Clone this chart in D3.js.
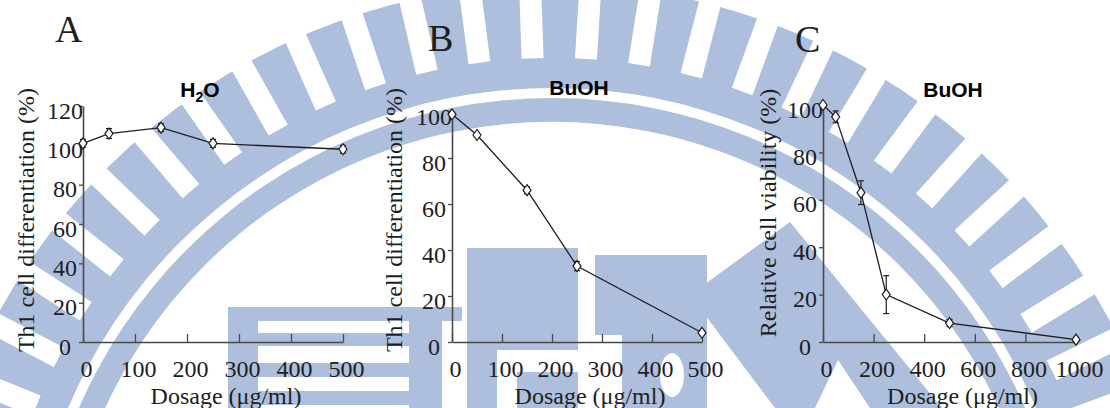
<!DOCTYPE html>
<html>
<head>
<meta charset="utf-8">
<script src="https://cdn.jsdelivr.net/npm/d3@7"></script>
<style>
  body { margin: 0; background: #fff; }
  svg { display: block; }
</style>
</head>
<body>
<div id="chart"></div>
<script>
// ---- data ----
// A: Th1 differentiation, H2O fraction
let doseA = [0, 50, 150, 250, 500];
let th1H2O = [101, 106, 109, 101, 98];
let errH2O = [2, 2.5, 2, 2, 2];
// B: Th1 differentiation, BuOH fraction
let doseB = [0, 50, 150, 250, 500];
let th1BuOH = [99, 90, 66, 33, 4];
let errBuOH = [1, 1, 1.5, 2, 1];
// C: relative cell viability, BuOH fraction
let doseC = [0, 50, 150, 250, 500, 1000];
let viabBuOH = [100, 95, 63, 20, 8, 1];
let errViab = [0.5, 2.5, 5, 8, 1.5, 1];

// tick labels
let xTicksA = [0, 100, 200, 300, 400, 500];
let xTicksC = [0, 200, 400, 600, 800, 1000];
let yTicksA = [0, 20, 40, 60, 80, 100, 120];
let yTicksB = [0, 20, 40, 60, 80, 100];

let serif = '"Liberation Serif", "Times New Roman", serif';
let sans = '"Liberation Sans", Arial, sans-serif';
let ink = '#1e1e1e';
let wmBlue = '#aebedd';

let svg = d3.select('#chart')
    .append('svg')
    .attr('width', 1110)
    .attr('height', 408);

// ---- background watermark (decoration, drawn under the charts) ----
function drawWatermark() {
    let wm = svg.append('g').attr('fill', wmBlue);
    let cx = 552, cy = 614;

    // outer ring that carries the radial bars
    let ring = wm.append('g').attr('transform', `translate(${cx},${cy})`);
    ring.append('path')
        .attr('d', d3.arc()({ innerRadius: 526, outerRadius: 630, startAngle: -Math.PI / 2, endAngle: Math.PI / 2 }));
    // white gaps between the bars
    for (let k = -17; k <= 16; k++) {
        let a = 3.5 + 5.5 * k;
        ring.append('rect')
            .attr('x', -11).attr('y', -720)
            .attr('width', 22).attr('height', 720 - 556)
            .attr('fill', '#fff')
            .attr('transform', `rotate(${a})`);
    }
    // inner band
    ring.append('path')
        .attr('d', d3.arc()({ innerRadius: 492, outerRadius: 516, startAngle: -Math.PI / 2, endAngle: Math.PI / 2 }));

    // block letters at the bottom
    let blocks = [
        [228, 307, 234, 14], [228, 321, 30, 87], [258, 333, 151, 13],
        [258, 363, 151, 14], [258, 391, 151, 14], [409, 321, 33, 87],
        [467, 248, 111, 102], [467, 350, 30, 58], [517, 372, 61, 36],
        [595, 255, 112, 153]
    ];
    wm.selectAll('rect.blk')
        .data(blocks)
        .enter()
        .append('rect')
        .classed('blk', true)
        .attr('x', d => d[0]).attr('y', d => d[1])
        .attr('width', d => d[2]).attr('height', d => d[3]);
    wm.append('rect').attr('x', 595).attr('y', 335).attr('width', 27).attr('height', 73).attr('fill', '#fff');
    wm.append('ellipse').attr('cx', 672).attr('cy', 375).attr('rx', 12).attr('ry', 22).attr('fill', '#fff');

    wm.append('polygon')
        .attr('points', '690,295 790,222 942,408 870,408 838,360 815,408 775,408');
}
drawWatermark();

// ---- one panel ----
function drawPanel(cfg, doses, values, errs) {
    let x = d3.scaleLinear().domain([0, cfg.xMax]).range([cfg.x0, cfg.x1]);
    let y = d3.scaleLinear().domain([0, cfg.yMax]).range([cfg.y0, cfg.yTop]);
    let fmt = d3.format('d');

    let g = svg.append('g');

    // x axis, ticks point into the plot
    let xAxis = g.append('g')
        .attr('transform', `translate(0, ${cfg.y0})`)
        .call(d3.axisBottom(x).tickValues(cfg.xTicks).tickFormat(fmt)
            .tickSizeInner(-8).tickSizeOuter(0).tickPadding(18));

    // y axis, ticks point outwards, labels centred under the ticks
    let yAxis = g.append('g')
        .attr('transform', `translate(${cfg.x0}, 0)`)
        .call(d3.axisLeft(y).tickValues(cfg.yTicks).tickFormat(fmt)
            .tickSizeInner(4).tickSizeOuter(0).tickPadding(0));

    [xAxis, yAxis].forEach(ax => {
        ax.attr('font-family', serif).attr('font-size', 24);
        ax.select('.domain').attr('stroke', '#4a4a4a').attr('stroke-width', 1.6);
        ax.selectAll('.tick line').attr('stroke', '#4a4a4a').attr('stroke-width', 1.3);
        ax.selectAll('.tick text').attr('fill', ink);
    });
    xAxis.selectAll('.tick text').attr('dx', 3);
    yAxis.selectAll('.tick text')
        .attr('x', -18)
        .attr('text-anchor', 'middle')
        .attr('dy', '0.5em');

    let pts = doses.map((d, i) => ({ dose: d, val: values[i], err: errs[i] }));

    // connecting line
    g.append('path')
        .datum(pts)
        .attr('fill', 'none')
        .attr('stroke', ink)
        .attr('stroke-width', 1.3)
        .attr('d', d3.line().x(d => x(d.dose)).y(d => y(d.val)));

    // error bars
    let eb = g.selectAll('.err')
        .data(pts)
        .enter()
        .append('g')
        .attr('stroke', ink)
        .attr('stroke-width', 1.2);
    eb.append('line')
        .attr('x1', d => x(d.dose)).attr('x2', d => x(d.dose))
        .attr('y1', d => y(d.val - d.err)).attr('y2', d => y(d.val + d.err));
    eb.append('line')
        .attr('x1', d => x(d.dose) - 3).attr('x2', d => x(d.dose) + 3)
        .attr('y1', d => y(d.val + d.err)).attr('y2', d => y(d.val + d.err));
    eb.append('line')
        .attr('x1', d => x(d.dose) - 3).attr('x2', d => x(d.dose) + 3)
        .attr('y1', d => y(d.val - d.err)).attr('y2', d => y(d.val - d.err));

    // open diamond markers
    g.selectAll('.mark')
        .data(pts)
        .enter()
        .append('path')
        .attr('d', 'M0,-5.5L4,0L0,5.5L-4,0Z')
        .attr('transform', d => `translate(${x(d.dose)}, ${y(d.val)})`)
        .attr('fill', '#fff')
        .attr('stroke', ink)
        .attr('stroke-width', 1.2);

    // panel letter
    g.append('text')
        .attr('x', cfg.letterX)
        .attr('y', cfg.letterY)
        .attr('font-family', serif)
        .attr('font-size', 38)
        .attr('fill', ink)
        .text(cfg.letter);

    // panel title (bold sans)
    let t = g.append('text')
        .attr('x', cfg.titleX)
        .attr('y', cfg.titleY)
        .attr('text-anchor', 'middle')
        .attr('font-family', sans)
        .attr('font-weight', 'bold')
        .attr('font-size', 21)
        .attr('fill', '#000');
    cfg.title.forEach(part => {
        let s = t.append('tspan').text(part.text);
        if (part.sub) {
            s.attr('font-size', 14).attr('dy', 5);
        } else if (part.after) {
            s.attr('dy', -5);
        }
    });

    // x title
    g.append('text')
        .attr('x', (cfg.x0 + cfg.x1) / 2 + 13)
        .attr('y', 404)
        .attr('text-anchor', 'middle')
        .attr('font-family', serif)
        .attr('font-size', 24)
        .attr('fill', ink)
        .text('Dosage (\u03bcg/ml)');

    // y title
    g.append('text')
        .attr('transform', `translate(${cfg.x0 - cfg.yTitleOff}, ${cfg.yTitleY}) rotate(-90)`)
        .attr('text-anchor', 'middle')
        .attr('dy', '0.35em')
        .attr('font-family', serif)
        .attr('font-size', 24)
        .attr('fill', ink)
        .text(cfg.yTitle);
}

drawPanel({
    x0: 83, x1: 343, y0: 342, yTop: 106, xMax: 500, yMax: 120,
    xTicks: xTicksA, yTicks: yTicksA,
    letter: 'A', letterX: 55, letterY: 42,
    title: [{ text: 'H' }, { text: '2', sub: true }, { text: 'O', after: true }],
    titleX: 200, titleY: 97,
    yTitle: 'Th1 cell differentiation (%)', yTitleOff: 57, yTitleY: 220
}, doseA, th1H2O, errH2O);

drawPanel({
    x0: 452, x1: 702, y0: 342, yTop: 112, xMax: 500, yMax: 100,
    xTicks: xTicksA, yTicks: yTicksB,
    letter: 'B', letterX: 428, letterY: 51,
    title: [{ text: 'BuOH' }],
    titleX: 579, titleY: 95,
    yTitle: 'Th1 cell differentiation (%)', yTitleOff: 58, yTitleY: 220
}, doseB, th1BuOH, errBuOH);

drawPanel({
    x0: 823, x1: 1076, y0: 342, yTop: 105, xMax: 1000, yMax: 100,
    xTicks: xTicksC, yTicks: yTicksB,
    letter: 'C', letterX: 795, letterY: 52,
    title: [{ text: 'BuOH' }],
    titleX: 953, titleY: 97,
    yTitle: 'Relative cell viability (%)', yTitleOff: 55, yTitleY: 213
}, doseC, viabBuOH, errViab);
</script>
</body>
</html>
